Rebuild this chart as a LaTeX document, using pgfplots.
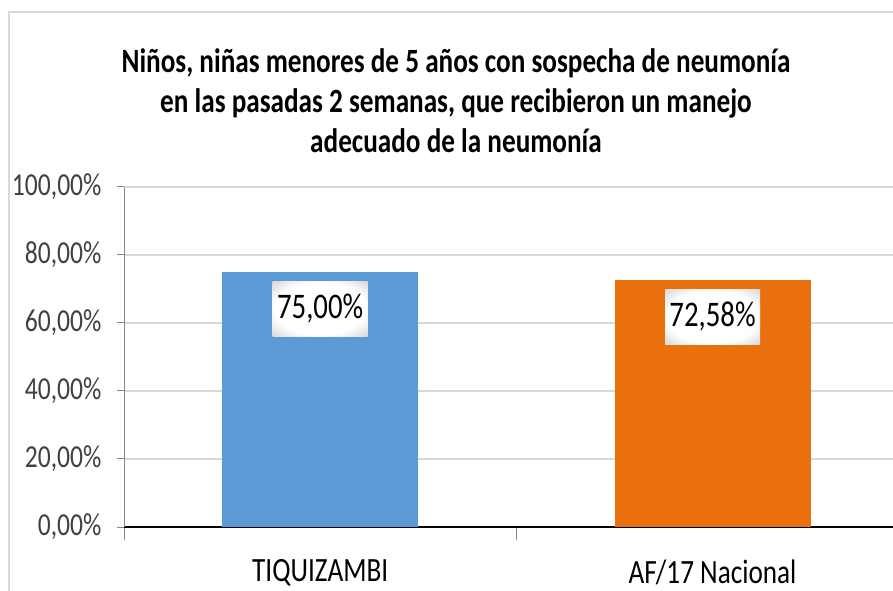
\documentclass[border=0pt]{standalone}
\usepackage{fontspec}
\setmainfont{Carlito}[FakeStretch=0.8]
\usepackage{pgfplots}
\pgfplotsset{compat=1.18}

\definecolor{barblue}{RGB}{91,155,213}
\definecolor{barorange}{RGB}{234,112,13}
\definecolor{gridgray}{RGB}{217,217,217}
\definecolor{axgray}{RGB}{134,134,134}
\pgfdeclareradialshading{lblglow}{\pgfpoint{0bp}{0bp}}{%
  color(0bp)=(white); color(24bp)=(white); color(40bp)=(black!22); color(50bp)=(black!45); color(70bp)=(black!60)}

\begin{document}
\begin{tikzpicture}
\useasboundingbox (0,0) rectangle (893bp,591bp);
% chart frame
\draw[gridgray, line width=1.2bp] (9bp,0) -- (9bp,579bp) -- (893bp,579bp);
% title
\begin{scope}[every node/.style={anchor=base, font=\fontsize{34bp}{40bp}\selectfont\bfseries}]
\node at (456bp,518bp) {Niños, niñas menores de 5 años con sospecha de neumonía};
\node at (456bp,478bp) {en las pasadas 2 semanas, que recibieron un manejo};
\node at (456bp,438bp) {adecuado de la neumonía};
\end{scope}

\begin{axis}[
  at={(124bp,64bp)}, anchor=south west,
  scale only axis, width=769bp, height=340bp,
  xmin=-0.5, xmax=1.46, ymin=0, ymax=100,
  axis x line*=bottom, axis y line*=left,
  x axis line style={black, line width=1.3bp},
  y axis line style={axgray, line width=1bp},
  ytick={0,20,...,100},
  ymajorgrids, grid style={gridgray, line width=1.2bp},
  tick align=outside, major tick length=7bp, minor tick length=13bp,
  ytick style={axgray, line width=1bp},
  yticklabel={\pgfmathprintnumber[fixed,fixed zerofill,precision=2,use comma,1000 sep={},assume math mode=true]{\tick}\%},
  yticklabel style={font=\fontsize{32bp}{32bp}\selectfont, text=black!75, xshift=-12bp},
  xtick={0,1},
  xticklabels={TIQUIZAMBI, AF/17 Nacional},
  xtick style={axgray, line width=1bp, /pgfplots/major tick length=0pt},
  minor xtick={-0.5,0.5},
  xticklabel style={font=\fontsize{34bp}{34bp}\selectfont, text=black, yshift=-22bp},
  ybar, bar width=196bp,
  nodes near coords={\pgfmathprintnumber[fixed,fixed zerofill,precision=2,use comma,assume math mode=true]{\pgfplotspointmeta}\%},
  nodes near coords align={below},
  every node near coord/.append style={shading=lblglow, minimum width=95bp,
    minimum height=55bp, inner sep=0pt, font=\fontsize{36bp}{36bp}\selectfont,
    text=black, anchor=north, yshift=-9bp},
]
\addplot[fill=barblue, draw=none, bar shift=0pt] coordinates {(0,75)};
\addplot[fill=barorange, draw=none, bar shift=0pt] coordinates {(1,72.58)};
\end{axis}
\end{tikzpicture}
\end{document}
